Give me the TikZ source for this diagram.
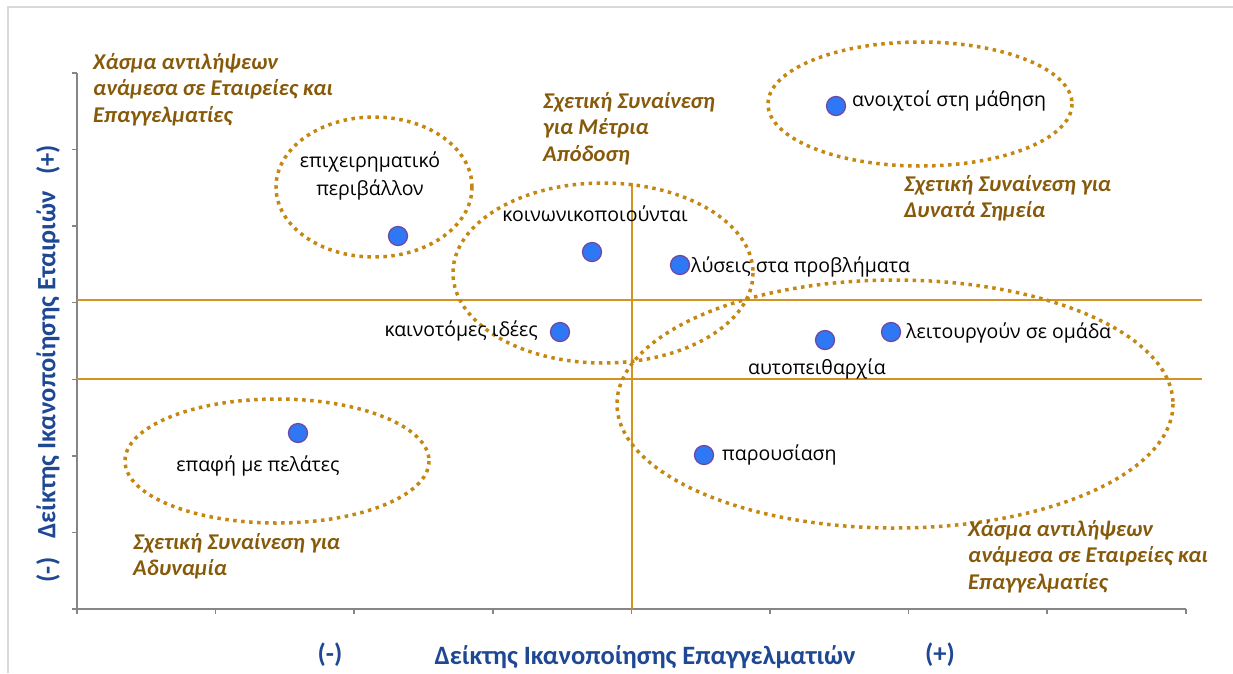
\documentclass[tikz,border=0pt]{standalone}
\usepackage{fontspec}
\setmainfont{Open Sans}
\newfontfamily\calfont{Carlito}
\usepackage{tikz}

\definecolor{dotblue}{RGB}{47,120,245}
\definecolor{dotedge}{RGB}{112,72,160}
\definecolor{quadorange}{RGB}{212,148,36}
\definecolor{zoneorange}{RGB}{196,136,18}
\definecolor{notebrown}{RGB}{134,90,10}
\definecolor{axisblue}{RGB}{30,72,148}
\definecolor{axisgray}{RGB}{134,134,134}
\definecolor{framegray}{RGB}{217,217,217}

\begin{document}
\begin{tikzpicture}[x=1pt,y=-1pt,
  datadot/.style={circle,fill=dotblue,draw=dotedge,line width=1.3pt,minimum size=19pt,inner sep=0pt},
  lbl/.style={font=\fontsize{19.5}{28}\selectfont,inner sep=0pt},
  note/.style={font=\calfont\bfseries\itshape\fontsize{22.5}{26.5}\selectfont,text=notebrown,align=left,anchor=north west,inner sep=0pt},
  axlbl/.style={font=\calfont\bfseries\fontsize{26.5}{30}\selectfont,text=axisblue,inner sep=0pt},
  zone/.style={draw=zoneorange,line width=3.5pt,dash pattern=on 3.5pt off 4.5pt}]
\useasboundingbox (0,0) rectangle (1233,673);
\draw[framegray,line width=2pt] (8,673) -- (8,7) -- (1233,7);

\draw[axisgray,line width=1.5pt] (77,73) -- (77,609) -- (1186,609);
\foreach \k in {0,...,7}
  \draw[axisgray,line width=1.5pt] (72,73+76.57*\k) -- (77,73+76.57*\k);
\foreach \k in {0,...,8}
  \draw[axisgray,line width=1.5pt] (77+138.6*\k,609) -- (77+138.6*\k,614);

\draw[quadorange,line width=2pt] (77,300) -- (1202,300);
\draw[quadorange,line width=2pt] (77,379) -- (1202,379);
\draw[quadorange,line width=2pt] (632,183) -- (632,609);

\draw[zone] (374,187) ellipse [x radius=98,y radius=70];
\draw[zone] (603,273) ellipse [x radius=150,y radius=90];
\draw[zone] (920,104) ellipse [x radius=152,y radius=62];
\draw[zone] (895,404) ellipse [x radius=278,y radius=124];
\draw[zone] (277,461) ellipse [x radius=152,y radius=62];

\node[datadot] (epix) at (398,236) {};
\node[datadot] (koin) at (592,252) {};
\node[datadot] (lysis) at (680,265) {};
\node[datadot] (kain) at (560,332) {};
\node[datadot] (autop) at (825,340) {};
\node[datadot] (leit) at (891,332) {};
\node[datadot] (parous) at (704,455) {};
\node[datadot] (epafi) at (298,433) {};
\node[datadot] (anoix) at (836,106) {};

\node[lbl,align=center] (epixlbl) at (370,176) {επιχειρηματικό\\περιβάλλον};
\node[lbl] (koinlbl) at (595,214) {κοινωνικοποιούνται};
\node[lbl,anchor=west] (lysislbl) at (691,267) {λύσεις στα προβλήματα};
\node[lbl,anchor=east] (kainlbl) at (538,331) {καινοτόμες ιδέες};
\node[lbl] (autoplbl) at (817,369) {αυτοπειθαρχία};
\node[lbl,anchor=west] (leitlbl) at (906,333) {λειτουργούν σε ομάδα};
\node[lbl,anchor=west] (parouslbl) at (722,455) {παρουσίαση};
\node[lbl] (epafilbl) at (258,466) {επαφή με πελάτες};
\node[lbl,anchor=west] (anoixlbl) at (852,101) {ανοιχτοί στη μάθηση};

\node[note] (gaptop) at (93,53) {Χάσμα αντιλήψεων\\ανάμεσα σε Εταιρείες και\\Επαγγελματίες};
\node[note] (midagree) at (543,92) {Σχετική Συναίνεση\\για Μέτρια\\Απόδοση};
\node[note] (strongagree) at (904,175) {Σχετική Συναίνεση για\\Δυνατά Σημεία};
\node[note] (weakagree) at (133,533) {Σχετική Συναίνεση για\\Αδυναμία};
\node[note] (gapbottom) at (968,520) {Χάσμα αντιλήψεων\\ανάμεσα σε Εταιρείες και\\Επαγγελματίες};

\node[axlbl] (xlab) at (645,657) {Δείκτης Ικανοποίησης Επαγγελματιών};
\node[axlbl] (xminus) at (330,655) {(-)};
\node[axlbl] (xplus) at (940,655) {(+)};
\node[axlbl,rotate=90] (ylab) at (48,365) {Δείκτης Ικανοποίησης Εταιριών};
\node[axlbl,rotate=90] (yminus) at (48,570) {(-)};
\node[axlbl,rotate=90] (yplus) at (48,160) {(+)};
\end{tikzpicture}
\end{document}
